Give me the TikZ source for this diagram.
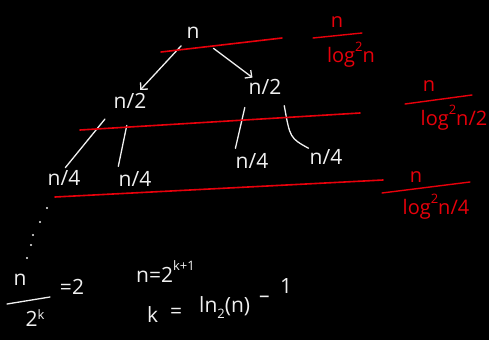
\documentclass[tikz,border=0pt]{standalone}
\usepackage{fontspec}
\setmainfont{Open Sans}
\usetikzlibrary{arrows.meta}
\definecolor{chalk}{HTML}{F0F0F0}
\definecolor{inkred}{HTML}{E8000B}
\newcommand{\up}[1]{\raisebox{0.55em}{\fontsize{13}{13}\selectfont #1}}
\newcommand{\dn}[1]{\raisebox{-0.3em}{\fontsize{13}{13}\selectfont #1}}

\begin{document}
\begin{tikzpicture}[x=1pt, y=-1pt,
    term/.style={text=chalk, font=\fontsize{21}{22}\selectfont, inner sep=1pt},
    cost/.style={text=inkred, font=\fontsize{20}{22}\selectfont, inner sep=1pt},
    edge/.style={draw=chalk, line width=1.3pt, line cap=round},
    arr/.style={edge, -{Straight Barb[length=5pt]}},
    level/.style={draw=inkred, line width=1.6pt, line cap=round},
    bar/.style={draw=inkred, line width=1.4pt, line cap=round},
    dot/.style={fill=chalk}
]
\fill[black] (0,0) rectangle (489,340);
\useasboundingbox (0,0) rectangle (489,340);

% recursion tree
\node[term] (root) at (193,33) {n};
\node[term] (l) at (130,101) {n/2};
\node[term] (r) at (265,87) {n/2};
\node[term] (ll) at (64,178) {n/4};
\node[term] (lr) at (135,179) {n/4};
\node[term] (rl) at (252,161) {n/4};
\node[term] (rr) at (326,157) {n/4};

\draw[arr, shorten <=8pt, shorten >=3pt] (root) -- (l);
\draw[arr, shorten <=16pt, shorten >=1pt] (root) -- (r);
\draw[edge, shorten <=12pt, shorten >=2pt] (l.south west) -- (ll.north);
\draw[edge, shorten <=16pt, shorten >=4pt] (l.south) -- (lr.north west);
\draw[edge, shorten <=12pt, shorten >=4pt] (r.south west) -- (rl.north west);
\draw[edge, shorten <=10pt] (r.south east) .. controls (290,138) .. (rr.north west);

% work per level
\draw[level] (161,52) -- (282,38);
\draw[level] (80,130) -- (360,113);
\draw[level] (55,197) -- (383,180);

\node[cost] (c1n) at (337,22) {n};
\draw[bar] (313,38) -- (362,33);
\node[cost] (c1d) at (351,55) {log\up{2}n};

\node[cost] (c2n) at (429,86) {n};
\draw[bar] (405,104) -- (472,95);
\node[cost] (c2d) at (454,118) {log\up{2}n/2};

\node[cost] (c3n) at (416,177) {n};
\draw[bar] (382,193) -- (470,182);
\node[cost] (c3d) at (436,207) {log\up{2}n/4};

% depth
\foreach \p in {(47,208),(40,222),(33,235),(31,245),(27,258)}
  \fill[dot] \p circle (1.1);

\node[term] (dn) at (20,280) {n};
\draw[edge] (7,304) -- (50,297);
\node[term] (dd) at (35,318) {2\raisebox{0.3em}{\fontsize{13}{13}\selectfont k}};
\node[term] (de) at (72,287) {=2};

\node[term, anchor=base west] (eq1) at (135,282) {n=2\up{k+1}};
\node[term, anchor=base west] (eq2k) at (146,322) {k};
\node[term, anchor=base west] (eq2eq) at (169,318) {=};
\node[term, anchor=base west] (eq2ln) at (198,312) {ln\dn{2}(n)};
\node[term, anchor=base west] (eq2m) at (258,302) {--};
\node[term, anchor=base west] (eq2one) at (279,293) {1};
\end{tikzpicture}
\end{document}
